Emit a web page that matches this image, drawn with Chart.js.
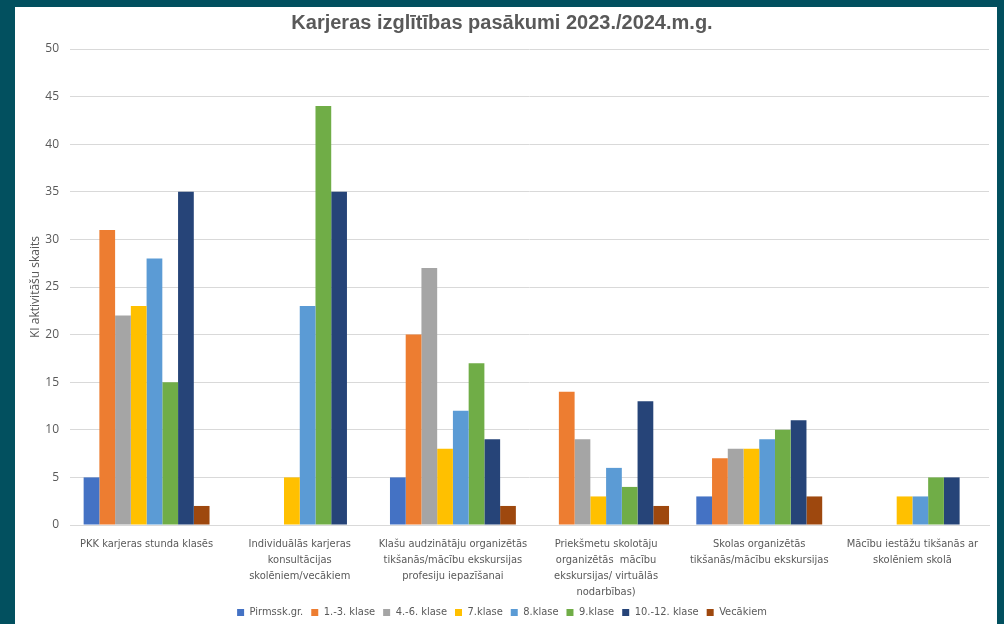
<!doctype html>
<html lang="lv">
  <head>
    <meta charset="utf-8">
    <title>Karjeras izglītības pasākumi</title>
    <style>
      * {
        margin: 0;
        padding: 0;
      }
      body {
        width: 1004px;
        height: 624px;
        background: #02505f;
        overflow: hidden;
        position: relative;
      }
      .chartBox {
        position: absolute;
        left: 15px;
        top: 7px;
        width: 982px;
        height: 621px;
        background: white;
      }
    </style>
  </head>
  <body>
    <div class="chartBox">
      <canvas id="myChart"></canvas>
    </div>
    <script src="https://cdn.jsdelivr.net/npm/chart.js/dist/chart.umd.min.js"></script>
    <script>
    // data
    const categories = [
      'PKK karjeras stunda klasēs',
      ['Individuālās karjeras', 'konsultācijas', 'skolēniem/vecākiem'],
      ['Klašu audzinātāju organizētās', 'tikšanās/mācību ekskursijas', 'profesiju iepazīšanai'],
      ['Priekšmetu skolotāju', 'organizētās  mācību', 'ekskursijas/ virtuālās', 'nodarbības)'],
      ['Skolas organizētās', 'tikšanās/mācību ekskursijas'],
      ['Mācību iestāžu tikšanās ar', 'skolēniem skolā']
    ];
    const seriesNames = ['Pirmssk.gr.', '1.-3. klase', '4.-6. klase', '7.klase', '8.klase', '9.klase', '10.-12. klase', 'Vecākiem'];
    const pirmssk = [5, 0, 5, 0, 3, 0];
    const klase1_3 = [31, 0, 20, 14, 7, 0];
    const klase4_6 = [22, 0, 27, 9, 8, 0];
    const klase7 = [23, 5, 8, 3, 8, 3];
    const klase8 = [28, 23, 12, 6, 9, 3];
    const klase9 = [15, 44, 17, 4, 10, 5];
    const klase10_12 = [35, 35, 9, 13, 11, 5];
    const vecakiem = [2, 0, 2, 2, 3, 0];
    const seriesColors = ['#4472C4', '#ED7D31', '#A5A5A5', '#FFC000', '#5B9BD5', '#70AD47', '#264478', '#9E480E'];

    const values = [pirmssk, klase1_3, klase4_6, klase7, klase8, klase9, klase10_12, vecakiem];
    const narrow = "'Liberation Sans Narrow', 'DejaVu Sans Condensed', sans-serif";

    const data = {
      labels: categories,
      datasets: seriesNames.map((name, i) => ({
        label: name,
        data: values[i],
        backgroundColor: seriesColors[i],
        borderWidth: 0,
        categoryPercentage: 0.822,
        barPercentage: 1.0
      }))
    };

    const config = {
      type: 'bar',
      data,
      options: {
        responsive: true,
        maintainAspectRatio: false,
        animation: false,
        layout: {
          padding: { left: 0, right: 8, top: 0, bottom: 0 }
        },
        plugins: {
          title: {
            display: true,
            text: 'Karjeras izglītības pasākumi 2023./2024.m.g.',
            color: '#595959',
            font: { family: "'Liberation Sans', Arial, sans-serif", size: 20, weight: 'bold', lineHeight: 1.2 },
            padding: { top: 4, bottom: 14 }
          },
          legend: {
            position: 'bottom',
            labels: {
              color: '#595959',
              font: { family: narrow, size: 11 },
              boxWidth: 7,
              boxHeight: 7,
              padding: 8
            }
          },
          tooltip: { enabled: false }
        },
        scales: {
          x: {
            grid: { display: false, drawTicks: false },
            border: { display: true, color: '#d9d9d9', width: 1 },
            ticks: {
              color: '#595959',
              font: { family: narrow, size: 11, lineHeight: 1.4545 },
              autoSkip: false,
              maxRotation: 0,
              minRotation: 0,
              padding: 11
            },
            afterFit: (scale) => { scale.height = 74; }
          },
          y: {
            min: 0,
            max: 50,
            ticks: {
              stepSize: 5,
              color: '#595959',
              font: { family: "'Open Sans', sans-serif", size: 12 },
              padding: 11
            },
            grid: { color: '#d9d9d9', lineWidth: 1, drawTicks: false },
            border: { display: false },
            title: {
              display: true,
              text: 'KI aktivitāšu skaits',
              color: '#595959',
              font: { family: "'Open Sans', sans-serif", size: 12, lineHeight: 1.2 },
              padding: { top: 13, bottom: 0 }
            },
            afterFit: (scale) => { scale.width = 55; }
          }
        }
      }
    };

    const myChart = new Chart(
      document.getElementById('myChart'),
      config
    );
    </script>
  </body>
</html>
